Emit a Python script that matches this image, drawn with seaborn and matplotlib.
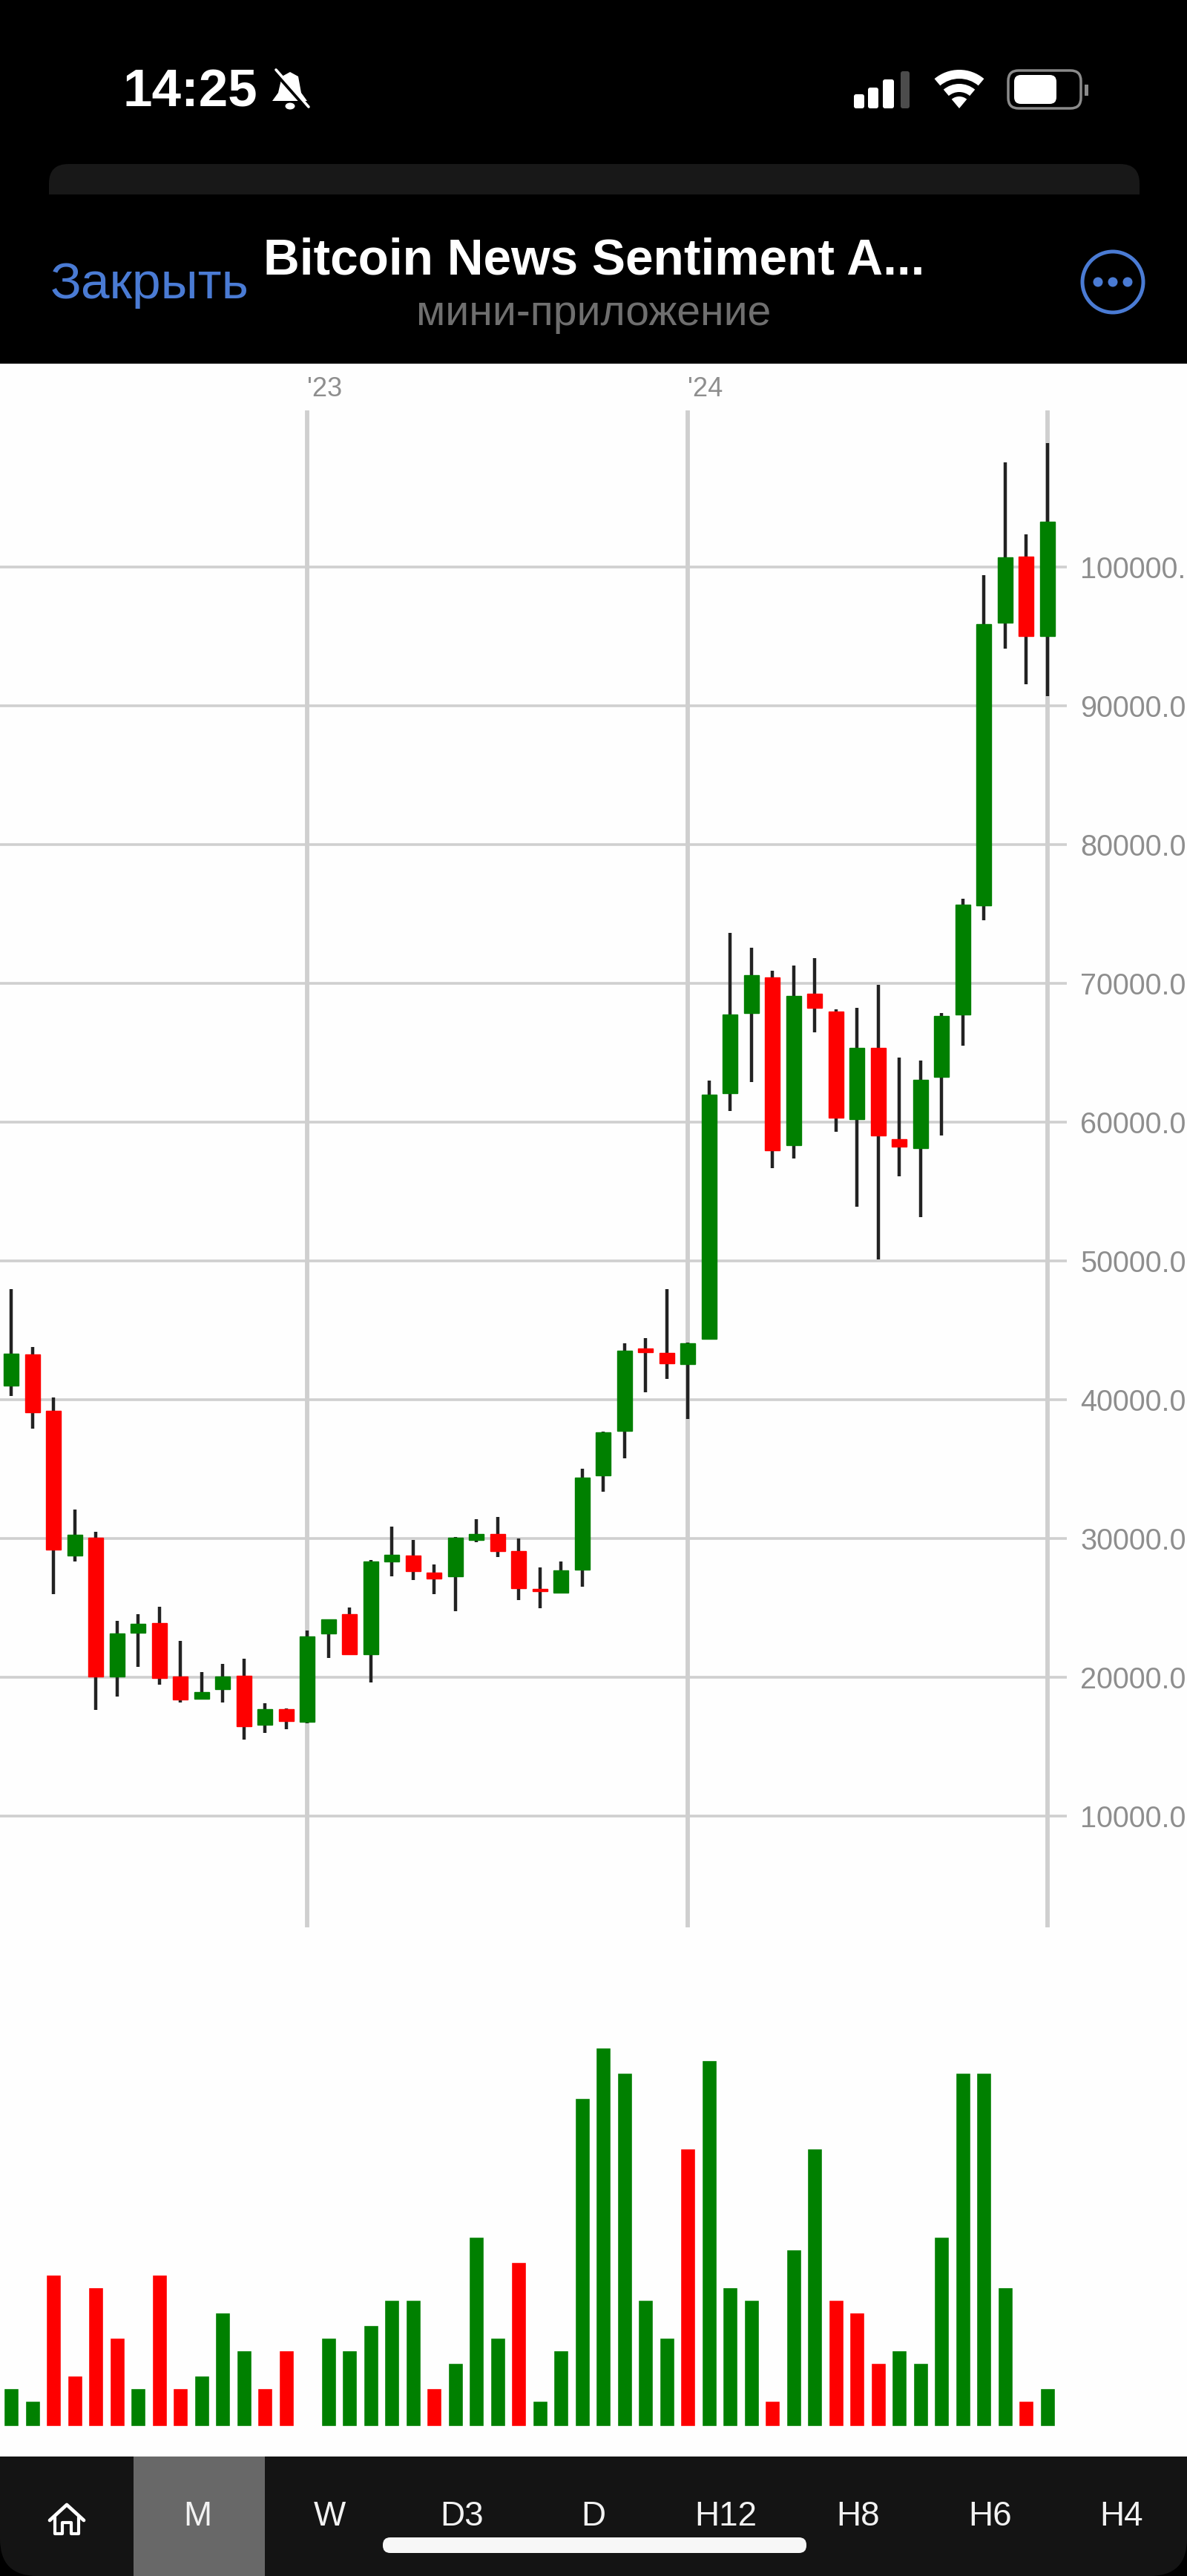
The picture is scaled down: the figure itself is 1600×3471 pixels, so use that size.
import matplotlib
matplotlib.use('Agg')
import matplotlib.pyplot as plt
import numpy as np
import pandas as pd
import seaborn as sns
from matplotlib.patches import Circle, Ellipse, FancyBboxPatch, Polygon, Rectangle, Wedge

# candles, values
opens = [41010, 43272, 39184, 28747, 30055, 20027, 23215, 23924, 20027, 18474,
         19128, 20082, 16567, 17711, 16785, 23161, 24524, 21662, 28339, 28747,
         27521, 27249, 29919, 30300, 29102, 26376, 26104, 27739, 34524, 37740,
         43680, 43380, 42590, 44362, 62078, 67840, 70427, 58354, 69251, 67958,
         60235, 65331, 58746, 58118, 63254, 67762, 75602, 95986, 100768, 95006]
closes = [43326, 39102, 29210, 30246, 20027, 23161, 23842, 19973, 18392, 18937,
          20027, 16458, 17711, 16839, 22943, 24197, 21662, 28339, 28802, 27657,
          27112, 30055, 30300, 29102, 26431, 26213, 27712, 34388, 37658, 43517,
          43408, 42618, 44062, 61999, 67762, 70584, 57962, 69094, 68232, 60314,
          65331, 59059, 58236, 63058, 67644, 75680, 95907, 100690, 95006, 103238]
highs = [47958, 43816, 40165, 32099, 30464, 24060, 24523, 25068, 22616, 20381,
         20981, 21362, 18120, 17766, 23379, 24197, 25014, 28475, 30846, 29892,
         28120, 30110, 31391, 31554, 29974, 27930, 28339, 35015, 37700, 44089,
         44416, 47958, 44143, 62979, 73642, 72544, 70898, 71290, 71799, 68154,
         68232, 69918, 64626, 64430, 67840, 76111, 99396, 107550, 102375, 108922]
lows = [40274, 37930, 25968, 28338, 17656, 18610, 20763, 19482, 18201, 18392,
        18201, 15531, 15967, 16267, 16675, 21390, 21662, 19619, 27249, 27031,
        25968, 24741, 29755, 28666, 25559, 24987, 26022, 26513, 33380, 35750,
        40519, 41473, 38612, 44362, 60784, 62862, 56707, 57374, 66468, 59294,
        53924, 50122, 56119, 53179, 59059, 65488, 74543, 94143, 91556, 90694]

# bottom panel
volumes = [3, 2, 12, 4, 11, 7, 3, 12, 3, 4, 9, 6, 3, 6, 0, 7, 6, 8, 10, 10, 3, 5, 15, 7, 13,
           2, 6, 26, 30, 28, 10, 7, 22, 29, 11, 10, 2, 14, 22, 10, 9, 5, 6, 5, 15, 28, 28, 11, 2, 3]
volume_sides = list('ggrrrrgrrgggrrggggggrgggrggg' 'ggggrgggrggrrrggggggrg')

price_ticks = [10000, 20000, 30000, 40000, 50000, 60000, 70000, 80000, 90000, 100000]
# the app cuts the longest label at the screen edge
price_labels = ['10000.0', '20000.0', '30000.0', '40000.0', '50000.0',
                '60000.0', '70000.0', '80000.0', '90000.0', '100000.']
year_ticks = [14, 32, 49]
year_labels = ["'23", "'24", ""]
timeframes = ['M', 'W', 'D3', 'D', 'H12', 'H8', 'H6', 'H4']
timeframe_x = [266, 444, 623, 800, 978, 1157, 1335, 1512]

GREEN = '#008000'
RED = '#fe0000'
BLUE = '#4a7bd4'
GRID = '#cfcfcf'
LABEL = '#8e8e8e'

W, H = 1600, 3471


def px_axes(fig, left, top, right, bottom, **kw):
    return fig.add_axes([left / W, 1 - bottom / H, (right - left) / W, (bottom - top) / H], **kw)


def draw_candles(ax, df):
    ax.vlines(df['i'], df['low'], df['high'], color='#222222', lw=3.2, zorder=3)
    for side, color in (('g', GREEN), ('r', RED)):
        part = df[df['side'] == side]
        sns.barplot(data=part, x='i', y='body', native_scale=True, color=color, width=0.7,
                    saturation=1, errorbar=None, bottom=part['bottom'].to_numpy(),
                    edgecolor=color, linewidth=1, zorder=4, ax=ax)
    ax.set(xlabel='', ylabel='')
    # pixel mapping: candle i sits at 15.3 + 28.5 * i, 10000 = 187 px
    ax.set_xlim((0 - 15.3) / 28.5, (1438 - 15.3) / 28.5)
    ax.set_ylim(10000 + (2447 - 2597) / 187 * 10000, 10000 + (2447 - 553) / 187 * 10000)
    ax.set_yticks(price_ticks, price_labels)
    ax.set_xticks(year_ticks, year_labels)
    ax.xaxis.tick_top()
    ax.yaxis.tick_right()
    ax.tick_params(axis='y', length=0, pad=13, labelsize=28.5, labelcolor=LABEL)
    ax.tick_params(axis='x', length=0, pad=8, labelsize=26, labelcolor=LABEL)
    for lab in ax.get_xticklabels():
        lab.set_ha('left')
    ax.grid(axis='y', color=GRID, lw=2.6, zorder=1)
    ax.grid(axis='x', color=GRID, lw=4.2, zorder=1)
    ax.set_axisbelow(True)
    sns.despine(ax=ax, left=True, bottom=True, right=True, top=True)
    ax.patch.set_alpha(0)


def draw_volume(ax, df):
    sns.barplot(data=df, x='i', y='volume', hue='vol_side', dodge=False, native_scale=True,
                palette={'g': GREEN, 'r': RED}, width=0.7, saturation=1, errorbar=None,
                legend=False, ax=ax)
    ax.set_xlim((0 - 15.3) / 28.5, (1438 - 15.3) / 28.5)
    ax.set_ylim(0, (3269 - 2650) / 17.0)
    ax.axis('off')


def draw_chrome(ax):
    ax.set_xlim(0, W)
    ax.set_ylim(H, 0)
    ax.axis('off')
    # bottom bar goes behind the white page so only its lower corners show round
    ax.add_patch(FancyBboxPatch((0, 3200), W, 271, boxstyle='round,pad=0,rounding_size=50',
                                fc='#141414', ec='none'))
    ax.add_patch(Rectangle((0, 490), W, 2820, fc='#fefefe', ec='none'))
    ax.add_patch(Rectangle((180, 3310), 177, 161, fc='#686868', ec='none'))
    for name, x in zip(timeframes, timeframe_x):
        ax.text(x, 3391, name, color='#f2f2f2', fontsize=33, ha='center', va='center')
    ax.add_patch(FancyBboxPatch((516, 3419), 571, 21, boxstyle='round,pad=0,rounding_size=10',
                                fc='#f7f7f7', ec='none'))
    # home icon
    ax.plot([67, 90, 113], [3396, 3375, 3396], color='white', lw=3.4, solid_capstyle='round')
    ax.plot([74, 74, 84, 84, 96, 96, 106, 106], [3392, 3414, 3414, 3399, 3399, 3414, 3414, 3392],
            color='white', lw=3)

    # status bar
    ax.text(165, 126, '14:25', color='white', fontsize=51, fontweight='bold', va='center')
    ax.add_patch(Polygon([(391, 97), (380, 103), (375, 125), (367, 136), (414, 136), (406, 125), (402, 103)],
                         fc='white', ec='none'))
    ax.add_patch(Ellipse((391, 143), 13, 9, fc='white', ec='none'))
    ax.plot([368, 416], [94, 148], color='black', lw=4)
    ax.plot([372, 416], [94, 144], color='white', lw=2.6)
    for x0, x1, top, col in [(1151, 1165, 127, 'white'), (1170, 1184, 118, 'white'),
                             (1190, 1205, 107, 'white'), (1214, 1226, 96, '#4c4c4c')]:
        ax.add_patch(FancyBboxPatch((x0, top), x1 - x0, 146 - top, boxstyle='round,pad=0,rounding_size=3',
                                    fc=col, ec='none'))
    for r, w in ((52, 12), (33, 11)):
        ax.add_patch(Wedge((1293, 146), r, 230, 310, width=w, fc='white', ec='none'))
    ax.add_patch(Wedge((1293, 146), 16, 230, 310, fc='white', ec='none'))
    ax.add_patch(FancyBboxPatch((1359, 95), 98, 51, boxstyle='round,pad=0,rounding_size=14',
                                fc='none', ec='#8a8a8a', lw=2.5))
    ax.add_patch(FancyBboxPatch((1367, 101), 57, 39, boxstyle='round,pad=0,rounding_size=9',
                                fc='white', ec='none'))
    ax.add_patch(Rectangle((1462, 114), 5, 15, fc='#8a8a8a', ec='none'))

    # header
    ax.add_patch(FancyBboxPatch((66, 221), 1470, 90, boxstyle='round,pad=0,rounding_size=26',
                                fc='#181818', ec='none'))
    ax.add_patch(Rectangle((0, 262), W, 60, fc='black', ec='none'))
    ax.text(68, 384, 'Закрыть', color=BLUE, fontsize=50, va='center')
    ax.text(355, 351, 'Bitcoin News Sentiment A...', color='white', fontsize=48.7, fontweight='bold', va='center')
    ax.text(800, 423, 'мини-приложение', color='#6f6f6f', fontsize=41, ha='center', va='center')
    ax.add_patch(Circle((1500, 380), 41, fc='none', ec=BLUE, lw=3.6))
    for x in (1480, 1500, 1520):
        ax.add_patch(Circle((x, 380), 6.5, fc=BLUE, ec='none'))


def main():
    sns.set_theme(style='white')
    plt.rcParams['font.family'] = ['Liberation Sans', 'DejaVu Sans']

    df = pd.DataFrame({'i': np.arange(len(opens)), 'open': opens, 'close': closes, 'high': highs, 'low': lows,
                       'volume': volumes, 'vol_side': volume_sides})
    df['side'] = np.where(df['close'] >= df['open'], 'g', 'r')
    df['bottom'] = df[['open', 'close']].min(axis=1)
    df['body'] = (df['close'] - df['open']).abs()

    fig = plt.figure(figsize=(W / 100, H / 100), dpi=100, facecolor='black')
    chrome_ax = px_axes(fig, 0, 0, W, H, zorder=0)
    draw_chrome(chrome_ax)
    price_ax = px_axes(fig, 0, 553, 1438, 2597, zorder=1)
    draw_candles(price_ax, df)
    volume_ax = px_axes(fig, 0, 2650, 1438, 3269, zorder=1)
    draw_volume(volume_ax, df)
    fig.savefig('out.png', dpi=100, facecolor='black')


if __name__ == "__main__":
    main()
